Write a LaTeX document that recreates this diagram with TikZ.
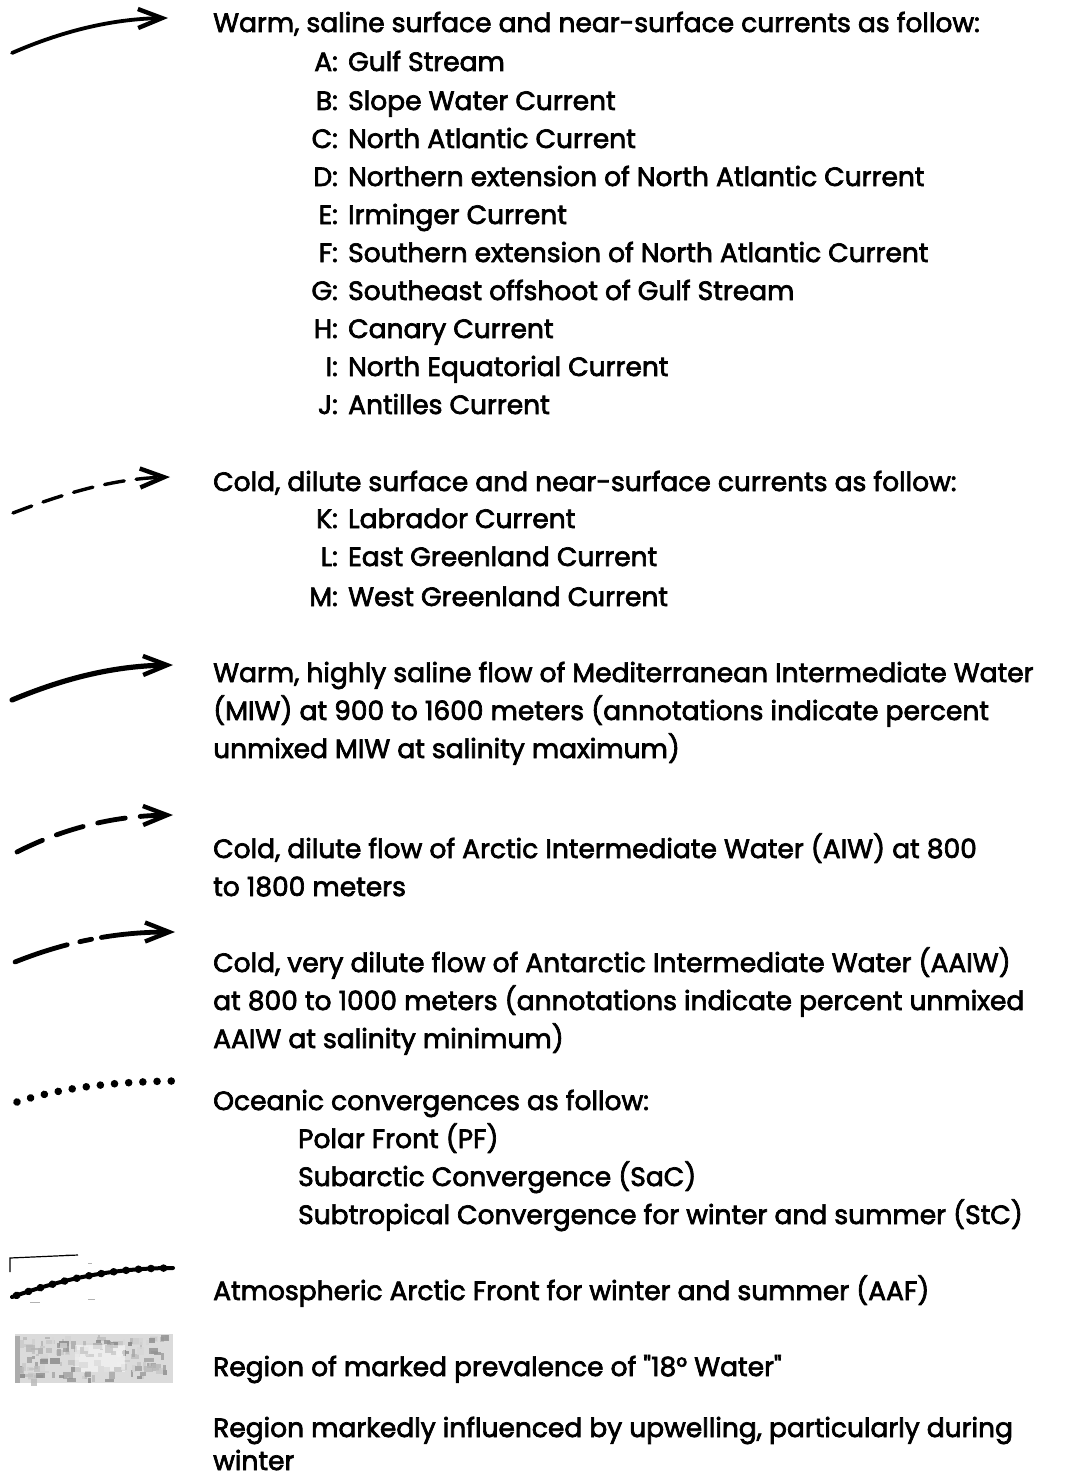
\documentclass[tikz,border=0pt]{standalone}
\usepackage{fontspec}
\setmainfont{Poppins}[Ligatures=TeXOff,RawFeature={embolden=2.6}]
\usetikzlibrary{arrows.meta,decorations.markings}
\tikzset{
  txt/.style={anchor=base west, inner sep=0pt, font=\fontsize{26.5}{31}\selectfont},
  lbl/.style={anchor=base east, inner sep=0pt, font=\fontsize{26.5}{31}\selectfont},
  barb/.style={-{Straight Barb[length=24pt,width=19pt,line width=4.4pt]}},
  sym/.style={line width=3.8pt, line cap=round, black},
}
\begin{document}
\begin{tikzpicture}[x=1pt,y=-1pt]
\useasboundingbox (0,0) rectangle (1066,1482);
% --- symbols ---
\draw[sym,barb] (12,53) .. controls (60,32) and (110,19) .. (168,18);
\draw[sym,barb,line width=3.4pt,dash pattern=on 20pt off 12pt] (13,513) .. controls (60,495) and (110,479) .. (170,477);
\draw[sym,barb,line width=5.2pt] (12,700) .. controls (60,680) and (110,666) .. (173,665);
\draw[sym,barb,line width=4.8pt,dash pattern=on 28pt off 15pt] (17,852) .. controls (60,830) and (110,816) .. (173,815);
\draw[sym,barb,line width=4.8pt,dash pattern=on 55pt off 13pt on 12pt off 10pt on 80pt] (15,962) .. controls (60,944) and (110,932) .. (175,932);
\path[decorate,decoration={markings,mark=between positions 0 and 1 step 14.2pt with {\fill (0,0) circle (3.8pt);}}] (17,1102) .. controls (60,1088) and (110,1082) .. (173,1081);
\draw[line width=1.2pt] (10,1272) -- (10,1258) -- (78,1255);
\draw[gray!60,line width=0.8pt] (66,1254) -- (72,1254) (88,1263) -- (92,1263) (30,1302) -- (40,1302) (88,1299) -- (95,1299);
\draw[line width=3.5pt,line cap=round,decorate,decoration={markings,mark=between positions 0.03 and 1 step 12.5pt with {\fill (0,0) circle (3.8pt);}}] (12,1297) .. controls (60,1280) and (110,1268) .. (173,1268);
\draw[line width=4pt,line cap=round] (12,1297) .. controls (60,1280) and (110,1268) .. (173,1268);
\fill[gray!28] (15,1334) rectangle (173,1383);
\pgfmathsetseed{7}
\foreach \k in {1,...,140}{
  \pgfmathsetmacro{\px}{15+150*rnd}
  \pgfmathsetmacro{\py}{1334+45*rnd}
  \pgfmathsetmacro{\pw}{2+8*rnd}
  \pgfmathsetmacro{\ph}{2+6*rnd}
  \pgfmathsetmacro{\pg}{int(12+38*rnd)}
  \fill[black!\pg,opacity=0.8] (\px,\py) rectangle ++(\pw,\ph);
}
\fill[gray!65] (15,1336) rectangle (20,1383);
\fill[white,opacity=0.5] (75,1345) rectangle (125,1372);
% --- texts ---
\node[txt] (t1) at (213,32) {Warm, saline surface and near-surface currents as follow:};
\foreach \l/\t/\y in {A/Gulf Stream/71, B/Slope Water Current/110, C/North Atlantic Current/148, D/Northern extension of North Atlantic Current/186, E/Irminger Current/224, F/Southern extension of North Atlantic Current/262, G/Southeast offshoot of Gulf Stream/300, H/Canary Current/338, I/North Equatorial Current/376, J/Antilles Current/414, K/Labrador Current/528, L/East Greenland Current/566, M/West Greenland Current/606}{
  \node[lbl] (l\l) at (338,\y) {\l:};
  \node[txt] (i\l) at (348,\y) {\t};
}
\node[txt] (t2) at (213,491) {Cold, dilute surface and near-surface currents as follow:};
\node[txt] (t3a) at (213,682) {Warm, highly saline flow of Mediterranean Intermediate Water};
\node[txt] (t3b) at (213,720) {(MIW) at 900 to 1600 meters (annotations indicate percent};
\node[txt] (t3c) at (213,758) {unmixed MIW at salinity maximum)};
\node[txt] (t4a) at (213,858) {Cold, dilute flow of Arctic Intermediate Water (AIW) at 800};
\node[txt] (t4b) at (213,896) {to 1800 meters};
\node[txt] (t5a) at (213,972) {Cold, very dilute flow of Antarctic Intermediate Water (AAIW)};
\node[txt] (t5b) at (213,1010) {at 800 to 1000 meters (annotations indicate percent unmixed};
\node[txt] (t5c) at (213,1048) {AAIW at salinity minimum)};
\node[txt] (t6) at (213,1110) {Oceanic convergences as follow:};
\node[txt] (t6a) at (298,1148) {Polar Front (PF)};
\node[txt] (t6b) at (298,1186) {Subarctic Convergence (SaC)};
\node[txt] (t6c) at (298,1224) {Subtropical Convergence for winter and summer (StC)};
\node[txt] (t7) at (213,1300) {Atmospheric Arctic Front for winter and summer (AAF)};
\node[txt] (t8) at (213,1376) {Region of marked prevalence of "18° Water"};
\node[txt] (t9a) at (213,1437) {Region markedly influenced by upwelling, particularly during};
\node[txt] (t9b) at (213,1470) {winter};
\end{tikzpicture}
\end{document}
